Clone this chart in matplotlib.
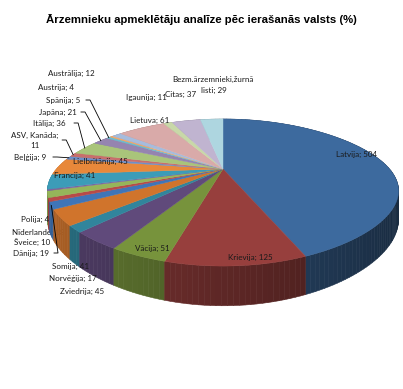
import numpy as np
import matplotlib.pyplot as plt
from matplotlib.colors import to_rgb

# data, in the order Excel draws the slices (clockwise from 12 o'clock)
labels = ["Latvija", "Krievija", "Vācija", "Zviedrija", "Norvēģija", "Somija",
          "Dānija", "Šveice", "Nīderlande", "Polija", "Francija", "Lielbritānija",
          "Beļģija", "ASV, Kanāda", "Itālija", "Japāna", "Spānija", "Austrija",
          "Austrālija", "Lietuva", "Igaunija", "Citas", "Bezm.ārzemnieki,žurnālisti"]
values = [504, 125, 51, 45, 17, 41, 19, 10, 18, 4, 41, 45, 9, 11, 36, 21, 5, 4,
          12, 61, 11, 37, 29]
label_text = ["Latvija; 504", "Krievija; 125", "Vācija; 51", "Zviedrija; 45",
              "Norvēģija; 17", "Somija; 41", "Dānija; 19", "Šveice; 10",
              "Nīderlande; 18", "Polija; 4", "Francija; 41", "Lielbritānija; 45",
              "Beļģija; 9", "ASV, Kanāda;\n11", "Itālija; 36", "Japāna; 21",
              "Spānija; 5", "Austrija; 4", "Austrālija; 12", "Lietuva; 61",
              "Igaunija; 11", "Citas; 37", "Bezm.ārzemnieki,žurnā\nlisti; 29"]

colors = ["#3d6a9e", "#973f3d", "#77933c", "#604a7b", "#31859c", "#d0742c",
          "#3f75b8", "#b84a48", "#95b55a", "#7d62a0", "#3c9cb8", "#e8883a",
          "#6d8fc8", "#c86e6c", "#a9c47a", "#9584b0", "#6cbccf", "#f5a96a",
          "#a6bcdd", "#d9aaa9", "#c8d8a8", "#c0b4d0", "#aed6e0"]

# label centres in pixels
label_pos = [(357, 154), (250, 257), (152, 248), (82, 291), (73, 278), (70, 266),
             (31, 253), (32, 242), (38, 232), (35, 219), (75, 175), (100, 161),
             (30, 157), (35, 140), (49, 123), (58, 112), (63, 100), (56, 87),
             (71, 73), (150, 120), (146, 97), (181, 94), (213, 85)]
leaders = [6, 12, 13, 14, 15, 16]

W, H = 403, 389
fig = plt.figure(figsize=(W / 100, H / 100), dpi=100)
ax = fig.add_axes([0, 0, 1, 1])
ax.set_xlim(0, W)
ax.set_ylim(H, 0)
ax.axis("off")

# perspective-ish projection of the pie disc
cx, cy = 223, 169
sx, sy = 172, 66
px, py = 0.2, 0.32
sag = 8
depth = 27


def proj(phi):
    u, v = np.sin(phi), np.cos(phi)
    return (cx + sx * u / (1 + px * v),
            cy - sy * v / (1 + py * v) + sag * u ** 2)


def drop(phi):
    return depth / (1 + py * np.cos(phi))


vals = np.array(values, float)
edges = np.concatenate([[0], np.cumsum(vals)]) / vals.sum() * 2 * np.pi

# side wall, far segments first
segs = []
for i in range(len(vals)):
    n = max(2, int((edges[i + 1] - edges[i]) / np.radians(1.5)) + 1)
    ph = np.linspace(edges[i], edges[i + 1], n)
    for a, b in zip(ph[:-1], ph[1:]):
        segs.append((np.cos((a + b) / 2), i, a, b))
segs.sort(key=lambda s: -s[0])
for v, i, a, b in segs:
    x1, y1 = proj(a)
    x2, y2 = proj(b)
    f = np.clip(0.62 - 0.22 * np.sin((a + b) / 2), 0.3, 0.85)
    c = np.array(to_rgb(colors[i])) * f
    ax.fill([x1, x2, x2, x1], [y1, y2, y2 + drop(b), y1 + drop(a)],
            color=c, ec=c, lw=0.4, zorder=2)

# top faces
for i in range(len(vals)):
    n = max(3, int((edges[i + 1] - edges[i]) / np.radians(1)) + 2)
    ph = np.linspace(edges[i], edges[i + 1], n)
    xs, ys = proj(ph)
    ax.fill(np.concatenate([[cx], xs]), np.concatenate([[cy], ys]),
            color=colors[i], ec=colors[i], lw=0.3, zorder=3)

# labels
for i, t in enumerate(label_text):
    x, y = label_pos[i]
    z = 1 if labels[i] == "Nīderlande" else 5
    lines = t.split("\n")
    if labels[i].startswith("Bezm"):
        # two separate lines so the second stays clear of "Citas"
        ax.text(x, y - 5.5, lines[0], ha="center", va="center", fontsize=5.8,
                family="Lato", color="#1a1a1a", zorder=z)
        ax.text(x + 1, y + 5.5, lines[1], ha="center", va="center", fontsize=5.8,
                family="Lato", color="#1a1a1a", zorder=z)
    else:
        ax.text(x, y, t, ha="center", va="center", fontsize=5.8, family="Lato",
                color="#1a1a1a", zorder=z, linespacing=1.5)
    if i in leaders:
        mid = (edges[i] + edges[i + 1]) / 2
        ex, ey = proj(mid)
        w = len(lines[0]) * 2.1
        ax.plot([x + w + 2, x + w + 6, ex], [y, y, ey], color="black",
                lw=0.6, zorder=4)

fig.text(0.5, 1 - 20 / H, "Ārzemnieku apmeklētāju analīze pēc ierašanās valsts (%)",
         ha="center", va="center", fontsize=8.2, fontweight="bold",
         family="Liberation Sans")

fig.savefig("out.png", dpi=100)
